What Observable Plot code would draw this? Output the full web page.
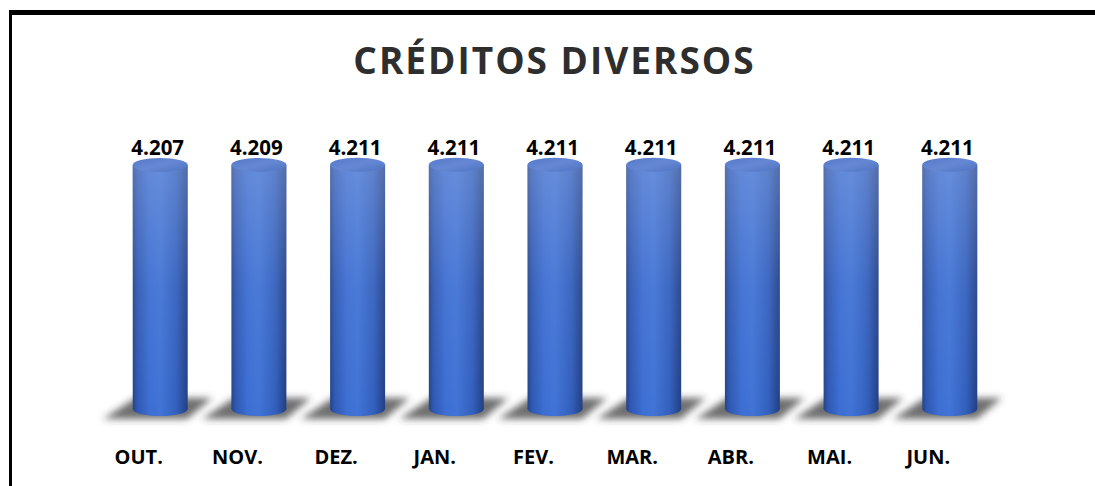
<!DOCTYPE html>
<html><head><meta charset="utf-8">
<script src="https://cdn.jsdelivr.net/npm/d3@7"></script>
<script src="https://cdn.jsdelivr.net/npm/@observablehq/plot@0.6"></script>
<style>
body{margin:0;background:#fff;}
#wrap{position:relative;width:1095px;height:486px;overflow:hidden;font-family:"Open Sans",sans-serif;background:#fff;}
#topline{position:absolute;left:9px;top:10px;width:1086px;height:5px;background:#000;}
#leftline{position:absolute;left:9px;top:10px;width:3px;height:476px;background:#000;}
#title{height:100px;box-sizing:border-box;padding-top:41px;padding-left:14px;text-align:center;font-weight:700;font-size:37px;color:#2e2e2e;letter-spacing:2px;line-height:1;}
#defs{position:absolute;width:0;height:0;left:0;top:0;}
</style></head><body>
<svg id="defs" width="0" height="0">
  <defs>
    <linearGradient id="bodyGrad" x1="0" x2="1" y1="0" y2="0">
      <stop offset="0" stop-color="#23438a"/>
      <stop offset="0.08" stop-color="#2f58b2"/>
      <stop offset="0.3" stop-color="#3d6ed2"/>
      <stop offset="0.5" stop-color="#4174d6"/>
      <stop offset="0.8" stop-color="#335fbc"/>
      <stop offset="1" stop-color="#223f82"/>
    </linearGradient>
    <linearGradient id="vGrad" x1="0" x2="0" y1="0" y2="1">
      <stop offset="0" stop-color="#9fb4e2" stop-opacity="0.4"/>
      <stop offset="0.5" stop-color="#9fb4e2" stop-opacity="0.1"/>
      <stop offset="1" stop-color="#9fb4e2" stop-opacity="0"/>
    </linearGradient>
    <linearGradient id="capGrad" x1="0" x2="1" y1="0" y2="1">
      <stop offset="0" stop-color="#5479c9"/>
      <stop offset="0.5" stop-color="#6688d4"/>
      <stop offset="1" stop-color="#4f73c2"/>
    </linearGradient>
    <filter id="blur" x="-30%" y="-80%" width="160%" height="260%">
      <feGaussianBlur stdDeviation="3.6"/>
    </filter>
  </defs>
</svg>
<div id="wrap"><div id="title"></div><div id="chart"></div><div id="topline"></div><div id="leftline"></div></div>
<script>
const title = "CRÉDITOS DIVERSOS";
const months = ["OUT.", "NOV.", "DEZ.", "JAN.", "FEV.", "MAR.", "ABR.", "MAI.", "JUN."];
const values = [4207, 4209, 4211, 4211, 4211, 4211, 4211, 4211, 4211];

document.getElementById("title").textContent = title;
const data = months.map((m, i) => ({month: m, value: values[i]}));
const fmt = d3.formatLocale({decimal: ",", thousands: ".", grouping: [3], currency: ["R$", ""]}).format(",d");

function bw(x) { return typeof x.bandwidth === "function" ? x.bandwidth() : x.bandwidth; }

// floor shadows
function shadows(index, scales) {
  const {x, y} = scales;
  const g = d3.create("svg:g").attr("filter", "url(#blur)");
  const w = bw(x);
  for (const d of data) {
    const xc = x(d.month) + w / 2, yb = y(0);
    g.append("polygon")
      .attr("points", [[xc - 25, yb - 11], [xc + 52, yb - 11], [xc + 27, yb + 10], [xc - 57, yb + 10]].map(p => p.join(",")).join(" "))
      .attr("fill", "#383838").attr("fill-opacity", 0.72);
  }
  return g.node();
}
// bottom ellipses
function bottoms(index, scales) {
  const {x, y} = scales;
  const g = d3.create("svg:g");
  const w = bw(x);
  for (const d of data) {
    g.append("ellipse").attr("cx", x(d.month) + w / 2).attr("cy", y(0))
      .attr("rx", w / 2).attr("ry", 7).attr("fill", "url(#bodyGrad)");
  }
  return g.node();
}
// top caps
function caps(index, scales) {
  const {x, y} = scales;
  const g = d3.create("svg:g");
  const w = bw(x);
  for (const d of data) {
    g.append("ellipse").attr("cx", x(d.month) + w / 2).attr("cy", y(d.value))
      .attr("rx", w / 2).attr("ry", 7).attr("fill", "url(#capGrad)");
  }
  return g.node();
}

const chart = Plot.plot({
  width: 1095,
  height: 386,
  marginLeft: 89,
  marginRight: 74,
  marginTop: 19,
  marginBottom: 77,
  style: {fontFamily: "'Open Sans', sans-serif", background: "transparent", overflow: "visible"},
  x: {domain: months, padding: 0.443, round: false, axis: null},
  y: {domain: [0, 5000], axis: null},
  marks: [
    shadows,
    bottoms,
    Plot.barY(data, {x: "month", y: "value", fill: "url(#bodyGrad)"}),
    Plot.barY(data, {x: "month", y: "value", fill: "url(#vGrad)"}),
    caps,
    Plot.text(data, {x: "month", y: "value", text: d => fmt(d.value), lineAnchor: "bottom", dy: -10, dx: -3, fontSize: 20.5, fontWeight: 700, fill: "#000"}),
    Plot.axisX({tickSize: 0, tickPadding: 40, fontSize: 20, fontWeight: 700, dx: -22, color: "#000", label: null})
  ]
});
document.getElementById("chart").appendChild(chart);
</script>
</body></html>
